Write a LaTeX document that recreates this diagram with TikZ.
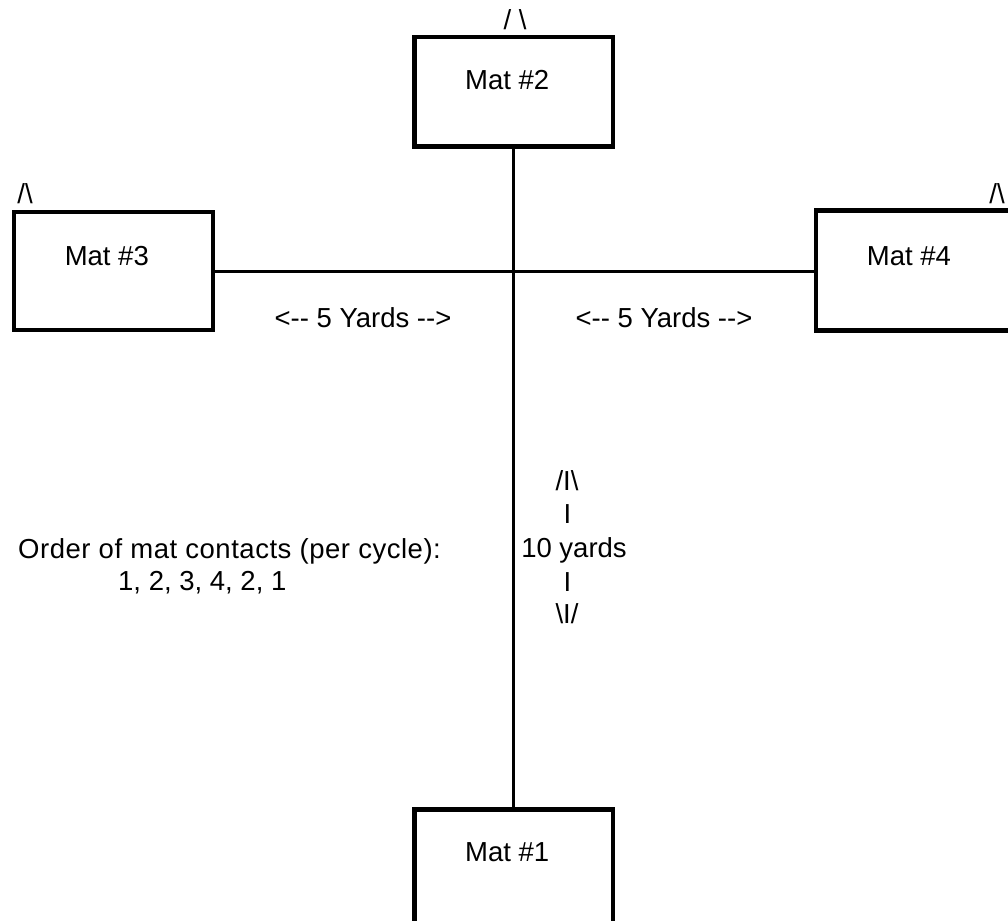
\documentclass[tikz,border=0pt]{standalone}
\usepackage{fontspec}
\setmainfont{Liberation Sans}
\usetikzlibrary{calc}
\begin{document}
\begin{tikzpicture}[x=1pt,y=-1pt,
  matbox/.style={draw, line width=4.3pt, rectangle, anchor=north west, inner sep=0pt, outer sep=0pt},
  conn/.style={draw, line width=3.3pt},
  txt/.style={inner sep=0pt, anchor=base, font=\fontsize{27.5}{33.3}\selectfont}]
\useasboundingbox (0,0) rectangle (1008,920);
\clip (0,0) rectangle (1008,920);
% mats
\node[matbox, minimum width=198.5pt, minimum height=109.5pt] (m2) at (414.5,37) {};
\node[matbox, minimum width=199pt, minimum height=118pt] (m3) at (13.8,211.7) {};
\node[matbox, minimum width=199pt, minimum height=120pt] (m4) at (816,210.5) {};
\node[matbox, minimum width=198.5pt, minimum height=140pt] (m1) at (414.5,809.5) {};
% crossing point
\coordinate (x) at (513.5,271.5);
% connectors
\draw[conn] (m2.south -| x) -- (m1.north -| x);
\draw[conn] (m3.east |- x) -- (m4.west |- x);
% mat labels
\node[txt] (t2) at ($(m2.north)+(-6.5,53)$) {Mat \#2};
\node[txt] (t3) at ($(m3.north)+(-6.5,53.5)$) {Mat \#3};
\node[txt] (t4) at ($(m4.north)+(-6.5,54.5)$) {Mat \#4};
\node[txt] (t1) at ($(m1.north)+(-6.5,51.5)$) {Mat \#1};
% roofs
\node[txt] (a2) at (515,30) {/ \textbackslash};
\node[txt] (a3) at (25,203) {/\textbackslash};
\node[txt] (a4) at (997,203) {/\textbackslash};
% distances
\node[txt] (d3) at (363,327) {<-{}- 5 Yards -{}->};
\node[txt] (d4) at (664,327) {<-{}- 5 Yards -{}->};
\node[txt] (v1) at (567,490) {/I\textbackslash};
\node[txt] (v2) at (567.5,523) {I};
\node[txt] (v3) at (574,557) {10 yards};
\node[txt] (v4) at (567.5,591) {I};
\node[txt] (v5) at (567,623) {\textbackslash I/};
% order
\node[txt, anchor=base west] (o1) at (18,558) {\addfontfeature{LetterSpace=1.9}Order of mat contacts (per cycle):};
\node[txt, anchor=base west] (o2) at (118,590) {1, 2, 3, 4, 2, 1};
\end{tikzpicture}
\end{document}
